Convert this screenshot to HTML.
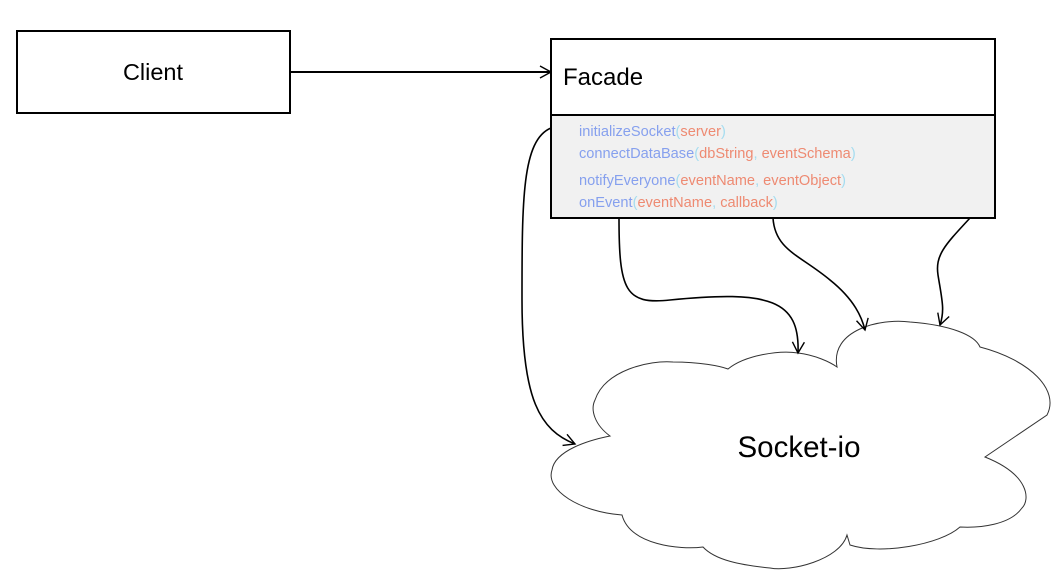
<!DOCTYPE html>
<html><head><style>
body{margin:0;background:#fff;}
svg{display:block;font-family:"Liberation Sans",sans-serif;}
.b{fill:#86a0ee}.o{fill:#ee8a72}.p{fill:#a5dcf0}
</style></head><body>
<svg width="1061" height="588" viewBox="0 0 1061 588">
<defs>
<marker id="a" markerWidth="14" markerHeight="14" refX="12" refY="7" orient="auto" markerUnits="userSpaceOnUse">
<path d="M1,1 L12,7 L1,13" fill="none" stroke="#000" stroke-width="1.4"/>
</marker>
</defs>
<rect x="17" y="31" width="273" height="82" fill="#fff" stroke="#000" stroke-width="2"/>
<text x="153" y="80" font-size="23.5" text-anchor="middle">Client</text>
<line x1="290" y1="72" x2="551" y2="72" stroke="#000" stroke-width="2" marker-end="url(#a)"/>
<rect x="551" y="39" width="444" height="179" fill="#fff" stroke="#000" stroke-width="2"/>
<rect x="552" y="116" width="442" height="101" fill="#f1f1f1"/>
<line x1="551" y1="115" x2="995" y2="115" stroke="#000" stroke-width="2"/>
<text x="563" y="85" font-size="24">Facade</text>
<g font-size="14.6">
<text x="579" y="136"><tspan class="b">initializeSocket</tspan><tspan class="p">(</tspan><tspan class="o">server</tspan><tspan class="p">)</tspan></text>
<text x="579" y="158"><tspan class="b">connectDataBase</tspan><tspan class="p">(</tspan><tspan class="o">dbString</tspan><tspan class="p">, </tspan><tspan class="o">eventSchema</tspan><tspan class="p">)</tspan></text>
<text x="579" y="185"><tspan class="b">notifyEveryone</tspan><tspan class="p">(</tspan><tspan class="o">eventName</tspan><tspan class="p">, </tspan><tspan class="o">eventObject</tspan><tspan class="p">)</tspan></text>
<text x="579" y="207"><tspan class="b">onEvent</tspan><tspan class="p">(</tspan><tspan class="o">eventName</tspan><tspan class="p">, </tspan><tspan class="o">callback</tspan><tspan class="p">)</tspan></text>
</g>
<path d="M837,367 C830,330 880,318 910,322 C950,325 975,335 980,347 C1030,360 1060,390 1047,415 L985,457 C1030,475 1030,500 1022,508 C1010,525 980,528 960,527 C940,545 880,555 850,545 L847,535 C840,560 790,572 770,568 C740,565 715,560 703,547 C680,550 630,545 622,515 C580,512 545,490 552,470 C555,450 590,440 610,436 C595,425 590,410 595,400 C605,370 650,360 673,362 C700,362 720,366 728,369 C745,355 780,350 798,353 C815,355 830,362 837,367 Z" fill="#fff" stroke="#333" stroke-width="1"/>
<text x="799" y="457" font-size="29.5" text-anchor="middle">Socket-io</text>
<g fill="none" stroke="#000" stroke-width="1.6">
<path d="M551,128 C522,140 522,200 522,300 C522,400 540,430 575,444" marker-end="url(#a)"/>
<path d="M619,218 C619,290 625,305 670,300 C770,290 800,300 798,353" marker-end="url(#a)"/>
<path d="M773,218 C775,250 800,255 830,280 C855,300 862,318 865,330" marker-end="url(#a)"/>
<path d="M970,218 C945,245 935,255 938,275 C942,300 945,310 940,325" marker-end="url(#a)"/>
</g>
</svg>
</body></html>
